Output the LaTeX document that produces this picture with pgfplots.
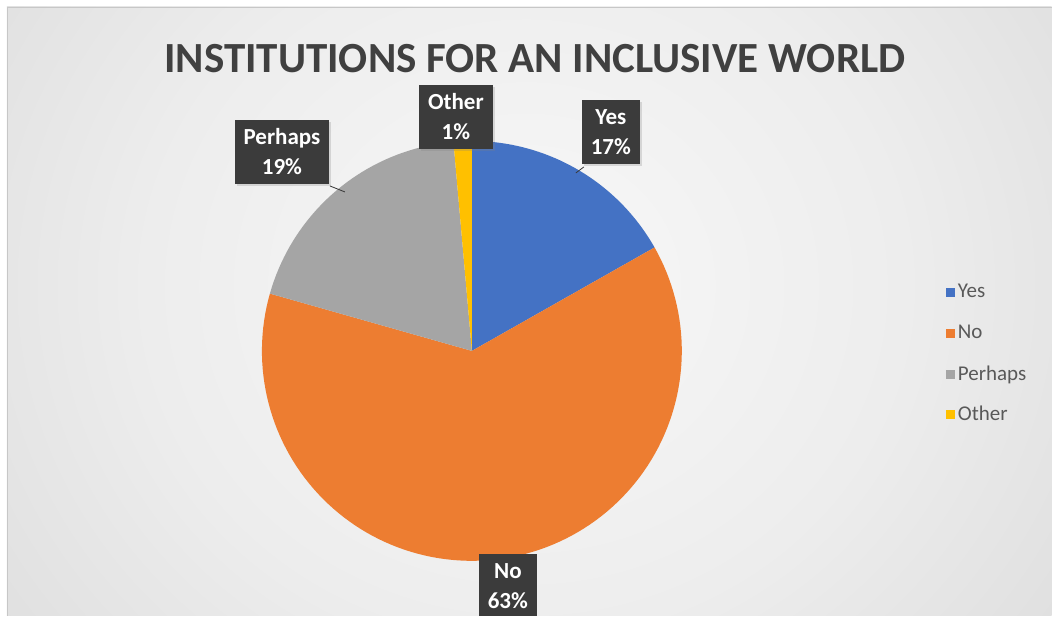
\documentclass[border=0pt]{standalone}
\usepackage{fontspec}
\setmainfont{Carlito}
\usepackage{pgfplots}
\usepackage{pgfplotstable}
\pgfplotsset{compat=1.18}
\usetikzlibrary{shadows}

\definecolor{cYes}{HTML}{4472C4}
\definecolor{cNo}{HTML}{ED7D31}
\definecolor{cPerhaps}{HTML}{A5A5A5}
\definecolor{cOther}{HTML}{FFC000}
\definecolor{titlegray}{HTML}{404040}
\definecolor{boxgray}{HTML}{3B3B3B}
\definecolor{leggray}{HTML}{595959}
\definecolor{bgA}{HTML}{F8F8F8}
\definecolor{bgB}{HTML}{EDEDED}
\definecolor{bgC}{HTML}{D8D8D8}
\definecolor{bgD}{HTML}{C4C4C4}

\pgfdeclareradialshading{bgshade}{\pgfpoint{0bp}{0bp}}{%
  color(0bp)=(bgA);
  color(18bp)=(bgB);
  color(38bp)=(bgC);
  color(50bp)=(bgD)}

\pgfplotstableread{
label value
Yes 16.8
No 62.6
Perhaps 19.2
Other 1.4
}\piedata

\tikzset{callout/.style={fill=boxgray, text=white, align=center, inner xsep=9pt, inner ysep=9pt,
  font=\fontsize{23}{30}\selectfont\bfseries,
  drop shadow={opacity=0.25, shadow xshift=2pt, shadow yshift=-2pt}}}

\begin{document}
\pgfplotstablegetelem{0}{value}\of\piedata \let\vYes\pgfplotsretval
\pgfplotstablegetelem{1}{value}\of\piedata \let\vNo\pgfplotsretval
\pgfplotstablegetelem{2}{value}\of\piedata \let\vPerhaps\pgfplotsretval
\pgfplotstablegetelem{3}{value}\of\piedata \let\vOther\pgfplotsretval
\pgfmathsetmacro\aA{90}%
\pgfmathsetmacro\aB{\aA-3.6*\vYes}%
\pgfmathsetmacro\aC{\aB-3.6*\vNo}%
\pgfmathsetmacro\aD{\aC-3.6*\vPerhaps}%
\pgfmathsetmacro\aE{\aD-3.6*\vOther}%
\begin{tikzpicture}
\begin{axis}[
  at={(0,0)}, anchor=south west,
  width=1052pt, height=616pt, scale only axis,
  xmin=0, xmax=1052, ymin=0, ymax=616,
  hide axis, clip=false,
]
% background
\fill[white] (axis cs:0,0) rectangle (axis cs:1052,616);
\begin{scope}
\clip (axis cs:7,0) rectangle (axis cs:1052,609);
\shade[shading=bgshade] (axis cs:0,-150) rectangle (axis cs:1052,810);
\end{scope}
\draw[black!22, line width=0.6pt] (axis cs:7,0) -- (axis cs:7,609) -- (axis cs:1052,609);

% pie slices
\addplot[draw=none, fill=cYes, domain=\aB:\aA, samples=40]
  ({472+210*cos(x)},{265+210*sin(x)}) -- (axis cs:472,265) -- cycle;
\addplot[draw=none, fill=cNo, domain=\aC:\aB, samples=120]
  ({472+210*cos(x)},{265+210*sin(x)}) -- (axis cs:472,265) -- cycle;
\addplot[draw=none, fill=cPerhaps, domain=\aD:\aC, samples=40]
  ({472+210*cos(x)},{265+210*sin(x)}) -- (axis cs:472,265) -- cycle;
\addplot[draw=none, fill=cOther, domain=\aE:\aD, samples=6]
  ({472+210*cos(x)},{265+210*sin(x)}) -- (axis cs:472,265) -- cycle;

% title
\node[anchor=base, text=titlegray, font=\fontsize{43}{50}\selectfont\bfseries]
  at (axis cs:535,543) {INSTITUTIONS FOR AN INCLUSIVE WORLD};

% leader lines
\draw[boxgray, line width=0.8pt] (axis cs:584,449) -- (axis cs:576,443);
\draw[boxgray, line width=0.8pt] (axis cs:330,430) -- (axis cs:345,424);

% callouts
\node[callout] at (axis cs:456,499) {Other\\1\%};
\node[callout] at (axis cs:611,484) {Yes\\17\%};
\node[callout] at (axis cs:282,464) {Perhaps\\19\%};
\fill[boxgray] (axis cs:479,62) rectangle (axis cs:537,0);
\node[anchor=base, text=white, font=\fontsize{23}{30}\selectfont\bfseries] at (axis cs:508,37) {No};
\node[anchor=base, text=white, font=\fontsize{23}{30}\selectfont\bfseries] at (axis cs:508,7) {63\%};

% legend
\fill[cYes] (axis cs:946,319) rectangle (axis cs:955,328);
\fill[cNo] (axis cs:946,278) rectangle (axis cs:955,287);
\fill[cPerhaps] (axis cs:946,237) rectangle (axis cs:955,246);
\fill[cOther] (axis cs:946,197) rectangle (axis cs:955,206);
\node[anchor=base west, inner sep=0pt, text=leggray, font=\fontsize{21}{24}\selectfont] at (axis cs:958,318) {Yes};
\node[anchor=base west, inner sep=0pt, text=leggray, font=\fontsize{21}{24}\selectfont] at (axis cs:958,277) {No};
\node[anchor=base west, inner sep=0pt, text=leggray, font=\fontsize{21}{24}\selectfont] at (axis cs:958,235) {Perhaps};
\node[anchor=base west, inner sep=0pt, text=leggray, font=\fontsize{21}{24}\selectfont] at (axis cs:958,195) {Other};
\end{axis}
\end{tikzpicture}
\end{document}
